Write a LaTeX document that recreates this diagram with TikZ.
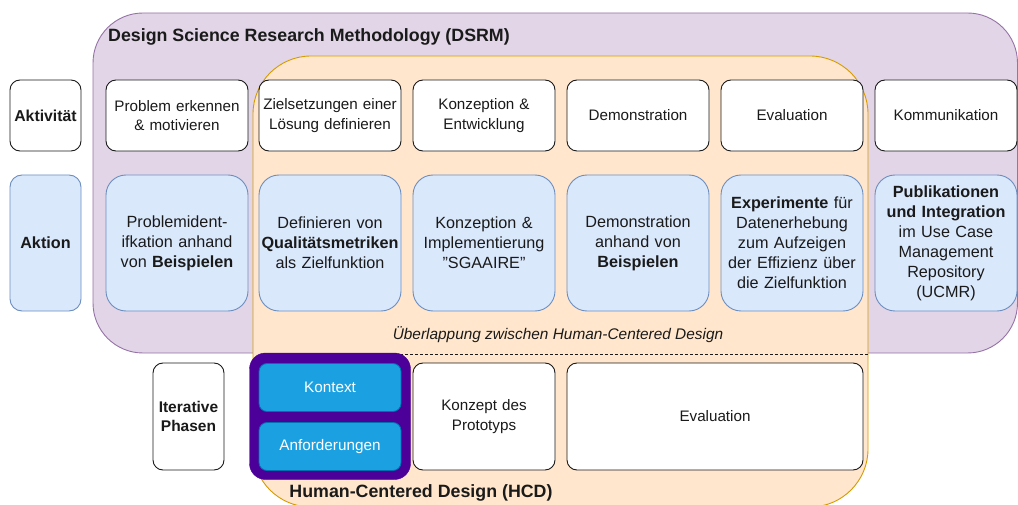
\documentclass[tikz,border=0pt]{standalone}
\usepackage{fontspec}
\setmainfont{Liberation Sans}
\definecolor{dsrmfill}{HTML}{E1D5E7}
\definecolor{dsrmline}{HTML}{9673A6}
\definecolor{hcdfill}{HTML}{FFE6CC}
\definecolor{hcdline}{HTML}{D79B00}
\definecolor{actfill}{HTML}{DAE8FC}
\definecolor{actline}{HTML}{6C8EBF}
\definecolor{ctxfill}{HTML}{1BA1E2}
\definecolor{ctxline}{HTML}{006EAF}
\definecolor{grpfill}{HTML}{4C0099}
\definecolor{txt}{HTML}{1A1A1A}
\begin{document}
\begin{tikzpicture}[x=1pt,y=-1pt,
  base/.style={inner sep=0pt, align=center, text=txt},
  actbox/.style={base, draw=txt, line width=0.9pt, rounded corners=10pt, fill=white,
    minimum width=142pt, minimum height=71pt, text width=140pt,
    font=\fontsize{15.2}{19.5}\selectfont},
  aktbox/.style={base, draw=actline, line width=0.9pt, rounded corners=20pt, fill=actfill,
    minimum width=142pt, minimum height=136pt, text width=141pt,
    font=\fontsize{16.2}{20}\selectfont},
  ctxbox/.style={base, draw=ctxline, line width=0.8pt, rounded corners=8pt, fill=ctxfill,
    minimum width=142pt, minimum height=48pt, text width=140pt, text=white,
    font=\fontsize{15.3}{19}\selectfont},
  hcdbox/.style={actbox, minimum height=107pt},
  label/.style={base, font=\bfseries\fontsize{17.8}{21}\selectfont}
]
\useasboundingbox (0,0) rectangle (1018,505);
% DSRM container
\draw[draw=dsrmline, fill=dsrmfill, line width=0.9pt, rounded corners=50pt]
  (93,13) rectangle (1017.5,353);
% HCD container (clipped at the bottom)
\begin{scope}
  \clip (0,0) rectangle (1018,505);
  \draw[draw=hcdline, fill=hcdfill, line width=0.9pt, rounded corners=58pt]
    (253,56) rectangle (868,507);
\end{scope}
% dashed separator
\coordinate (dl) at (260,354);
\coordinate (dr) at (868,354);
\draw[dashed, dash pattern=on 3pt off 2pt, line width=0.8pt, draw=txt] (dl) -- (dr);

% titles
\node[label, anchor=west] (dsrm) at (108,37) {Design Science Research Methodology (DSRM)};
\node[label] (hcd) at (421,493) {Human-Centered Design (HCD)};
\node[base, font=\itshape\fontsize{15.4}{18}\selectfont] (ueb) at (558,335)
  {Überlappung zwischen Human-Centered Design};

% row 1: Aktivität
\node[actbox, minimum width=71pt, text width=70pt, font=\bfseries\fontsize{15.8}{19.5}\selectfont] (aktivitaet) at (45.5,115.5) {Aktivität};
\node[actbox] (a1) at (177,115.5) {Problem erkennen\\\& motivieren};
\node[actbox] (a2) at (330,115.5) {Zielsetzungen einer\\Lösung definieren};
\node[actbox] (a3) at (484,115.5) {Konzeption \&\\Entwicklung};
\node[actbox] (a4) at (638,115.5) {Demonstration};
\node[actbox] (a5) at (792,115.5) {Evaluation};
\node[actbox] (a6) at (946,115.5) {Kommunikation};

% row 2: Aktion
\node[aktbox, minimum width=71pt, text width=70pt, rounded corners=12pt, font=\bfseries\fontsize{16.2}{20}\selectfont] (aktion) at (45.5,243) {Aktion};
\node[aktbox] (b1) at (177,243) {Problemident-\\ifkation anhand\\von \textbf{Beispielen}};
\node[aktbox] (b2) at (330,243) {Definieren von\\\textbf{Qualitätsmetriken}\\als Zielfunktion};
\node[aktbox] (b3) at (484,243) {Konzeption \&\\Implementierung\\"SGAAIRE"};
\node[aktbox] (b4) at (638,243) {Demonstration\\anhand von\\\textbf{Beispielen}};
\node[aktbox] (b5) at (792,243) {\textbf{Experimente} für\\Datenerhebung\\zum Aufzeigen\\der Effizienz über\\die Zielfunktion};
\node[aktbox] (b6) at (946,243) {\textbf{Publikationen}\\\textbf{und Integration}\\im Use Case\\Management\\Repository\\(UCMR)};

% row 3: iterative phases
\node[hcdbox, minimum width=71pt, text width=70pt, font=\bfseries\fontsize{15.5}{19}\selectfont] (iter) at (188.5,416.5) {Iterative\\Phasen};
\node[base, draw=grpfill, fill=grpfill, rounded corners=16pt, minimum width=161pt, minimum height=126.5pt] (grp) at (330,416.25) {};
\node[ctxbox] (kontext) at (330,387.5) {Kontext};
\node[ctxbox] (anf) at (330,446.5) {Anforderungen};
\node[hcdbox] (konzept) at (484,416.5) {Konzept des\\Prototyps};
\node[hcdbox, minimum width=296pt, text width=290pt] (eval) at (715,416.5) {Evaluation};
\end{tikzpicture}
\end{document}
